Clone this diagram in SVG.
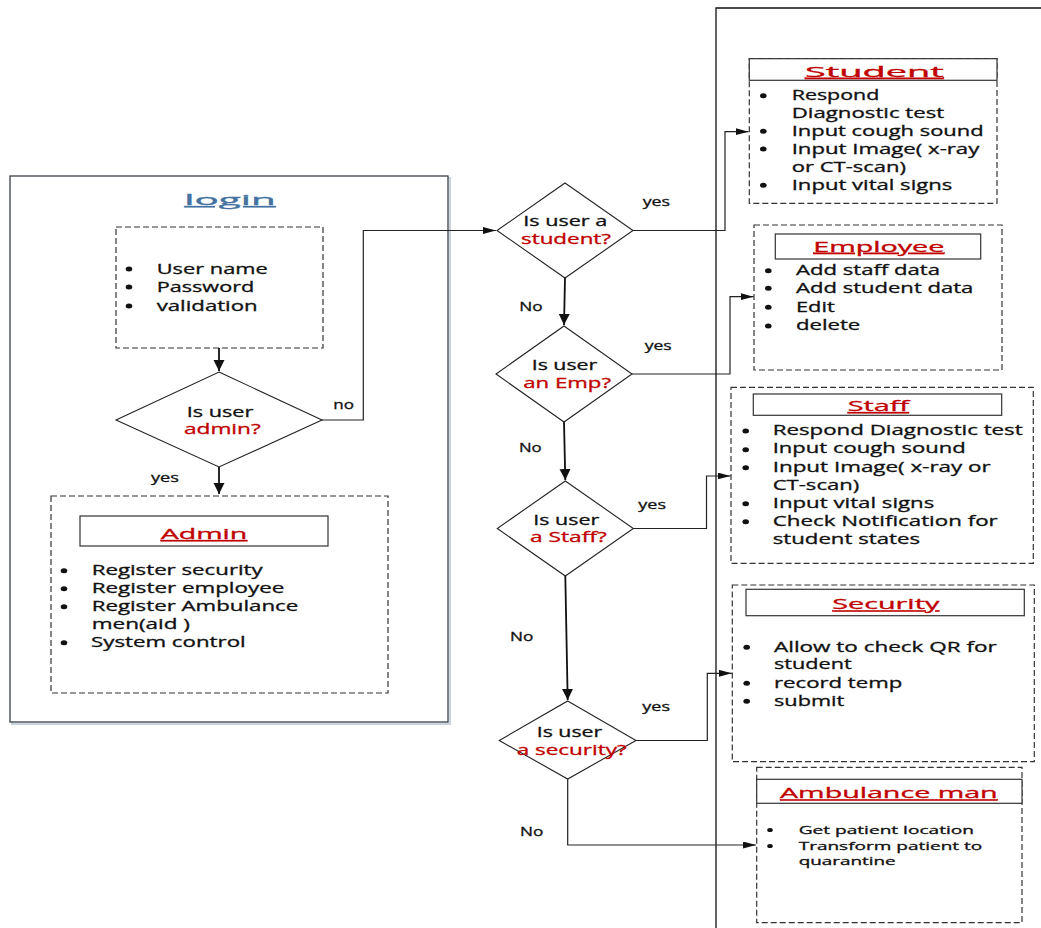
<svg xmlns="http://www.w3.org/2000/svg" width="1041" height="928" viewBox="0 0 1041 928">
  <style>
    .t { font-family: "Open Sans", "Liberation Sans", sans-serif; font-size: 14px; fill: #111; stroke: #111; stroke-width: 0.3; }
    .s { font-size: 12px; }
    .xs { font-size: 11px; }
    .red { fill: #c00000; stroke: #c00000; }
    .ttl { fill: #c00000; stroke: #c00000; text-decoration: underline; }
    .dash { fill: #fff; stroke: #333; stroke-width: 1.2; stroke-dasharray: 6 3; }
    .head { fill: #fff; stroke: #333; stroke-width: 1.2; }
    .dia { fill: #fff; stroke: #222; stroke-width: 1.1; }
    .frame { fill: none; stroke: #111; stroke-width: 1.3; }
    .thick { fill: none; stroke: #111; stroke-width: 1.8; }
    .thin { fill: none; stroke: #222; stroke-width: 1.2; }
    .dot { fill: #111; }
  </style>
  <defs>
    <marker id="arrDown" markerUnits="userSpaceOnUse" markerWidth="12" markerHeight="12" refX="11" refY="5.5" orient="auto">
      <path d="M0,0 L11,5.5 L0,11 z" fill="#111"/>
    </marker>
    <marker id="arrSide" markerUnits="userSpaceOnUse" markerWidth="14" markerHeight="8" refX="13" refY="3.5" orient="auto">
      <path d="M0,0 L13,3.5 L0,7 z" fill="#111"/>
    </marker>
  </defs>

  <rect width="1041" height="928" fill="#fff"/>

  <!-- right-hand swimlane frame -->
  <path class="frame" d="M716,928 V8 H1041"/>

  <!-- login panel -->
  <g id="login">
    <rect x="12" y="178" width="438" height="546" fill="none" stroke="#c9d2de" stroke-width="2"/>
    <rect x="10" y="176" width="438" height="546" fill="#fff" stroke="#3a3f47" stroke-width="1.3"/>
    <text class="t" x="184.3" y="205" font-size="25" style="fill:#4472a0;stroke:#4472a0;text-decoration:underline" textLength="91.4" lengthAdjust="spacingAndGlyphs">login</text>
  </g>

  <g id="credentials">
    <rect class="dash" x="116" y="227" width="207" height="121"/>
    <ellipse class="dot" cx="129" cy="269" rx="3.3" ry="2.5"/>
    <ellipse class="dot" cx="129" cy="287" rx="3.3" ry="2.5"/>
    <ellipse class="dot" cx="129" cy="306" rx="3.3" ry="2.5"/>
    <text class="t" x="156.7" y="274.3" textLength="111" lengthAdjust="spacingAndGlyphs">User name</text>
    <text class="t" x="156.7" y="292.3" textLength="97.6" lengthAdjust="spacingAndGlyphs">Password</text>
    <text class="t" x="156.7" y="311" textLength="101" lengthAdjust="spacingAndGlyphs">validation</text>
  </g>

  <g id="isAdmin">
    <polygon class="dia" points="219,372 322,420 219,467 116,420"/>
    <text class="t" x="186.7" y="416.7" textLength="66.6" lengthAdjust="spacingAndGlyphs">Is user</text>
    <text class="t red" x="184" y="434" textLength="76.7" lengthAdjust="spacingAndGlyphs">admin?</text>
  </g>

  <g id="admin">
    <rect class="dash" x="51" y="496" width="337" height="197"/>
    <rect class="head" x="80" y="516" width="248" height="30"/>
    <text class="t ttl" x="160.7" y="539" font-size="20" textLength="86.6" lengthAdjust="spacingAndGlyphs">Admin</text>
    <ellipse class="dot" cx="64" cy="570.7" rx="3.3" ry="2.5"/>
    <ellipse class="dot" cx="64" cy="588.7" rx="3.3" ry="2.5"/>
    <ellipse class="dot" cx="64" cy="606.7" rx="3.3" ry="2.5"/>
    <ellipse class="dot" cx="64" cy="642.7" rx="3.3" ry="2.5"/>
    <text class="t" x="91.7" y="575" textLength="171" lengthAdjust="spacingAndGlyphs">Register security</text>
    <text class="t" x="91.7" y="593.3" textLength="192.6" lengthAdjust="spacingAndGlyphs">Register employee</text>
    <text class="t" x="91.7" y="611" textLength="206.6" lengthAdjust="spacingAndGlyphs">Register Ambulance</text>
    <text class="t" x="91.7" y="628.7" textLength="98.3" lengthAdjust="spacingAndGlyphs">men(aid )</text>
    <text class="t" x="91" y="647.3" textLength="154.7" lengthAdjust="spacingAndGlyphs">System control</text>
  </g>

  <!-- decision column -->
  <g id="isStudent">
    <polygon class="dia" points="565,183 633,230.5 565,278 497,230.5"/>
    <text class="t" x="523.3" y="226" textLength="84" lengthAdjust="spacingAndGlyphs">Is user a</text>
    <text class="t red" x="521" y="244" textLength="90" lengthAdjust="spacingAndGlyphs">student?</text>
  </g>
  <g id="isEmployee">
    <polygon class="dia" points="564,326 632,374 564,422 496,374"/>
    <text class="t" x="531.7" y="370" textLength="65.6" lengthAdjust="spacingAndGlyphs">Is user</text>
    <text class="t red" x="523.3" y="388.3" textLength="87.7" lengthAdjust="spacingAndGlyphs">an Emp?</text>
  </g>
  <g id="isStaff">
    <polygon class="dia" points="565.3,481 633.3,528.5 565.3,576 497.3,528.5"/>
    <text class="t" x="533.3" y="525" textLength="66" lengthAdjust="spacingAndGlyphs">Is user</text>
    <text class="t red" x="530" y="542.3" textLength="76.7" lengthAdjust="spacingAndGlyphs">a Staff?</text>
  </g>
  <g id="isSecurity">
    <polygon class="dia" points="567.7,701 636,740.5 567.7,779 499.3,740.5"/>
    <text class="t" x="536.7" y="736.7" textLength="65.6" lengthAdjust="spacingAndGlyphs">Is user</text>
    <text class="t red" x="516.7" y="755" textLength="110" lengthAdjust="spacingAndGlyphs">a security?</text>
  </g>

  <!-- role panels -->
  <g id="student">
    <rect class="dash" x="749.3" y="58.7" width="247.7" height="144.6"/>
    <rect class="head" x="749.3" y="58.7" width="247.7" height="21.6"/>
    <text class="t ttl" x="805" y="76.7" font-size="23" textLength="138.7" lengthAdjust="spacingAndGlyphs">Student</text>
    <ellipse class="dot" cx="763.3" cy="95.7" rx="3.3" ry="2.5"/>
    <ellipse class="dot" cx="763.3" cy="131.3" rx="3.3" ry="2.5"/>
    <ellipse class="dot" cx="763.3" cy="149" rx="3.3" ry="2.5"/>
    <ellipse class="dot" cx="763.3" cy="185.3" rx="3.3" ry="2.5"/>
    <text class="t" x="791.7" y="100" textLength="87.6" lengthAdjust="spacingAndGlyphs">Respond</text>
    <text class="t" x="791.7" y="117.7" textLength="152.6" lengthAdjust="spacingAndGlyphs">Diagnostic test</text>
    <text class="t" x="791.7" y="136" textLength="192" lengthAdjust="spacingAndGlyphs">Input cough sound</text>
    <text class="t" x="791.7" y="154" textLength="187.6" lengthAdjust="spacingAndGlyphs">Input Image( x-ray</text>
    <text class="t" x="791.7" y="171.7" textLength="114.3" lengthAdjust="spacingAndGlyphs">or CT-scan)</text>
    <text class="t" x="791.7" y="190" textLength="160.6" lengthAdjust="spacingAndGlyphs">Input vital signs</text>
  </g>

  <g id="employee">
    <rect class="dash" x="754" y="225" width="248" height="145"/>
    <rect class="head" x="775.3" y="234" width="205.4" height="25"/>
    <text class="t ttl" x="813.3" y="251.7" font-size="17" textLength="131" lengthAdjust="spacingAndGlyphs">Employee</text>
    <ellipse class="dot" cx="768.3" cy="270.7" rx="3.3" ry="2.5"/>
    <ellipse class="dot" cx="768.3" cy="288.3" rx="3.3" ry="2.5"/>
    <ellipse class="dot" cx="768.3" cy="307.3" rx="3.3" ry="2.5"/>
    <ellipse class="dot" cx="768.3" cy="326" rx="3.3" ry="2.5"/>
    <text class="t" x="796" y="275" textLength="144" lengthAdjust="spacingAndGlyphs">Add staff data</text>
    <text class="t" x="796" y="292.7" textLength="177.3" lengthAdjust="spacingAndGlyphs">Add student data</text>
    <text class="t" x="796" y="311.7" textLength="38.7" lengthAdjust="spacingAndGlyphs">Edit</text>
    <text class="t" x="796" y="330" textLength="64.3" lengthAdjust="spacingAndGlyphs">delete</text>
  </g>

  <g id="staff">
    <rect class="dash" x="731" y="387.3" width="302.3" height="176"/>
    <rect class="head" x="753.3" y="394" width="248.4" height="21.3"/>
    <text class="t ttl" x="847.7" y="411" font-size="18" textLength="61.3" lengthAdjust="spacingAndGlyphs">Staff</text>
    <ellipse class="dot" cx="745.7" cy="431" rx="3.3" ry="2.5"/>
    <ellipse class="dot" cx="745.7" cy="449.7" rx="3.3" ry="2.5"/>
    <ellipse class="dot" cx="745.7" cy="467.7" rx="3.3" ry="2.5"/>
    <ellipse class="dot" cx="745.7" cy="503.7" rx="3.3" ry="2.5"/>
    <ellipse class="dot" cx="745.7" cy="521.7" rx="3.3" ry="2.5"/>
    <text class="t" x="772.7" y="435" textLength="250" lengthAdjust="spacingAndGlyphs">Respond Diagnostic test</text>
    <text class="t" x="772.7" y="453.3" textLength="193" lengthAdjust="spacingAndGlyphs">Input cough sound</text>
    <text class="t" x="772.7" y="471.7" textLength="218" lengthAdjust="spacingAndGlyphs">Input Image( x-ray or</text>
    <text class="t" x="772.7" y="490" textLength="86.6" lengthAdjust="spacingAndGlyphs">CT-scan)</text>
    <text class="t" x="772.7" y="507.7" textLength="161.6" lengthAdjust="spacingAndGlyphs">Input vital signs</text>
    <text class="t" x="772.7" y="525.7" textLength="225" lengthAdjust="spacingAndGlyphs">Check Notification for</text>
    <text class="t" x="772.7" y="544" textLength="147.3" lengthAdjust="spacingAndGlyphs">student states</text>
  </g>

  <g id="security">
    <rect class="dash" x="732.3" y="585" width="302" height="176.7"/>
    <rect class="head" x="746" y="589.3" width="278.3" height="26.4"/>
    <text class="t ttl" x="832.3" y="609.3" font-size="18" textLength="107" lengthAdjust="spacingAndGlyphs">Security</text>
    <ellipse class="dot" cx="746.7" cy="647.3" rx="3.3" ry="2.5"/>
    <ellipse class="dot" cx="746.7" cy="683.3" rx="3.3" ry="2.5"/>
    <ellipse class="dot" cx="746.7" cy="701.3" rx="3.3" ry="2.5"/>
    <text class="t" x="774" y="651.7" textLength="222.7" lengthAdjust="spacingAndGlyphs">Allow to check QR for</text>
    <text class="t" x="774" y="669.3" textLength="77.7" lengthAdjust="spacingAndGlyphs">student</text>
    <text class="t" x="774" y="687.7" textLength="128.3" lengthAdjust="spacingAndGlyphs">record temp</text>
    <text class="t" x="774" y="705.7" textLength="70.3" lengthAdjust="spacingAndGlyphs">submit</text>
  </g>

  <g id="ambulance">
    <rect class="dash" x="756.7" y="767.3" width="265.3" height="155.4"/>
    <rect class="head" x="756.7" y="779.3" width="265.3" height="24"/>
    <text class="t ttl" x="780" y="798.3" font-size="18.5" textLength="217.7" lengthAdjust="spacingAndGlyphs">Ambulance man</text>
    <ellipse class="dot" cx="770" cy="830" rx="2.8" ry="2.1"/>
    <ellipse class="dot" cx="770" cy="846" rx="2.8" ry="2.1"/>
    <text class="t xs" x="798.7" y="834" textLength="175.3" lengthAdjust="spacingAndGlyphs">Get patient location</text>
    <text class="t xs" x="798.7" y="850" textLength="183.6" lengthAdjust="spacingAndGlyphs">Transform patient to</text>
    <text class="t xs" x="798.7" y="864.6" textLength="97" lengthAdjust="spacingAndGlyphs">quarantine</text>
  </g>

  <!-- connectors -->
  <g id="connectors">
    <path class="thick" d="M219,348 V371" marker-end="url(#arrDown)"/>
    <path class="thick" d="M219,467 V494" marker-end="url(#arrDown)"/>
    <path class="thin" d="M322,420 H363.3 V230.5 H496" marker-end="url(#arrSide)"/>
    <path class="thick" d="M565,278 L564,325" marker-end="url(#arrDown)"/>
    <path class="thick" d="M564,422 L565.3,480" marker-end="url(#arrDown)"/>
    <path class="thick" d="M565.3,576 L567.7,700" marker-end="url(#arrDown)"/>
    <path class="thin" d="M633,230.5 H725 V131.7 H748.5" marker-end="url(#arrSide)"/>
    <path class="thin" d="M632,374 H730 V296.7 H753.5" marker-end="url(#arrSide)"/>
    <path class="thin" d="M633.3,528.5 H706.5 V476 H730.5" marker-end="url(#arrSide)"/>
    <path class="thin" d="M636,740.5 H707.3 V673.3 H731.8" marker-end="url(#arrSide)"/>
    <path class="thin" d="M567.7,779 V845 H756" marker-end="url(#arrSide)"/>
  </g>

  <!-- branch labels -->
  <g id="labels">
    <text class="t s" x="333.3" y="409" textLength="20.7" lengthAdjust="spacingAndGlyphs">no</text>
    <text class="t s" x="151" y="481.7" textLength="28" lengthAdjust="spacingAndGlyphs">yes</text>
    <text class="t s" x="642.7" y="205.7" textLength="27.3" lengthAdjust="spacingAndGlyphs">yes</text>
    <text class="t s" x="519.3" y="310.7" textLength="23.4" lengthAdjust="spacingAndGlyphs">No</text>
    <text class="t s" x="644.7" y="350" textLength="27" lengthAdjust="spacingAndGlyphs">yes</text>
    <text class="t s" x="519" y="451.7" textLength="22.7" lengthAdjust="spacingAndGlyphs">No</text>
    <text class="t s" x="638.3" y="508.7" textLength="27.7" lengthAdjust="spacingAndGlyphs">yes</text>
    <text class="t s" x="510" y="640.7" textLength="23.3" lengthAdjust="spacingAndGlyphs">No</text>
    <text class="t s" x="642.3" y="710.7" textLength="27.7" lengthAdjust="spacingAndGlyphs">yes</text>
    <text class="t s" x="520" y="836" textLength="23.3" lengthAdjust="spacingAndGlyphs">No</text>
  </g>
</svg>
